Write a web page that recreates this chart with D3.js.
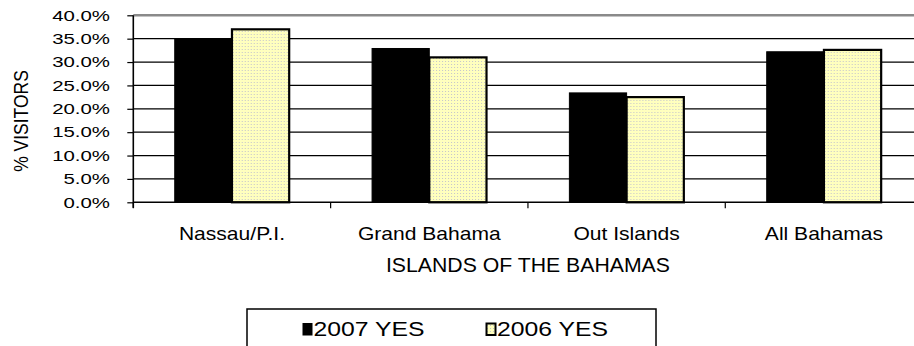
<!DOCTYPE html>
<html>
<head>
<meta charset="utf-8">
<script src="https://cdn.jsdelivr.net/npm/d3@7"></script>
<style>
  html, body { margin: 0; padding: 0; background: #fff; }
  svg { display: block; }
  text { font-family: Arial, "Liberation Sans", sans-serif; fill: #000; }
</style>
</head>
<body>
<svg id="chart" width="914" height="346"></svg>
<script>
// Share of visitors answering YES, by island group
const categories = ["Nassau/P.I.", "Grand Bahama", "Out Islands", "All Bahamas"];
const seriesNames = ["2007 YES", "2006 YES"];
const values2007 = [0.350, 0.329, 0.234, 0.322];
const values2006 = [0.370, 0.310, 0.225, 0.326];
const yTicks = [0, 0.05, 0.10, 0.15, 0.20, 0.25, 0.30, 0.35, 0.40];
const xTitle = "ISLANDS OF THE BAHAMAS";
const yTitle = "% VISITORS";

const svg = d3.select("#chart");

// plot area (the right edge runs past the visible canvas)
const plot = { left: 133.3, right: 922.6, top: 15.3, bottom: 202.3 };

const x = d3.scaleBand()
  .domain(categories)
  .range([plot.left, plot.right])
  .paddingInner(0.42)
  .paddingOuter(0.21);

const xs = d3.scaleBand()
  .domain(seriesNames)
  .range([0, x.bandwidth()]);

const y = d3.scaleLinear()
  .domain([0, 0.4])
  .range([plot.bottom, plot.top]);

// dotted pale-yellow fill
const defs = svg.append("defs");
const pat = defs.append("pattern")
  .attr("id", "dots")
  .attr("patternUnits", "userSpaceOnUse")
  .attr("width", 3).attr("height", 3);
pat.append("rect").attr("width", 3).attr("height", 3).attr("fill", "#FFFFBE");
pat.append("rect").attr("x", 1).attr("y", 1).attr("width", 1).attr("height", 1).attr("fill", "#C4C4CC");

// horizontal gridlines
svg.append("g")
  .selectAll("line")
  .data(yTicks.filter(t => t > 0 && t < 0.4))
  .join("line")
  .attr("x1", plot.left).attr("x2", plot.right)
  .attr("y1", d => y(d)).attr("y2", d => y(d))
  .attr("stroke", "#000").attr("stroke-width", 1.3);

// plot-area top border
svg.append("line")
  .attr("x1", plot.left).attr("x2", plot.right)
  .attr("y1", y(0.4)).attr("y2", y(0.4))
  .attr("stroke", "#8a8a8a").attr("stroke-width", 2.6);

// bars
const rows = categories.map((c, i) => ({ cat: c, vals: [values2007[i], values2006[i]] }));
const groups = svg.append("g")
  .selectAll("g")
  .data(rows)
  .join("g")
  .attr("transform", d => `translate(${x(d.cat)},0)`);

groups.selectAll("rect")
  .data(d => d.vals.map((v, j) => ({ name: seriesNames[j], v })))
  .join("rect")
  .attr("x", d => xs(d.name))
  .attr("width", xs.bandwidth())
  .attr("y", d => y(d.v))
  .attr("height", d => y(0) - y(d.v))
  .attr("fill", d => d.name === seriesNames[0] ? "#000" : "url(#dots)")
  .attr("stroke", "#000")
  .attr("stroke-width", d => d.name === seriesNames[0] ? 1 : 2.2);

// y axis
const yAxis = svg.append("g")
  .attr("transform", `translate(${plot.left},0)`)
  .call(d3.axisLeft(y).tickValues(yTicks).tickSize(6).tickPadding(0).tickFormat(d3.format(".1%")));
yAxis.select(".domain").remove();
yAxis.selectAll(".tick line").attr("stroke", "#000").attr("stroke-width", 1.2);
yAxis.selectAll(".tick text").remove();
svg.append("line")
  .attr("x1", plot.left).attr("x2", plot.left)
  .attr("y1", plot.top).attr("y2", plot.bottom + 5.5)
  .attr("stroke", "#000").attr("stroke-width", 1.6);

// y tick labels, slightly widened
const fmt = d3.format(".1%");
svg.append("g")
  .selectAll("text")
  .data(yTicks)
  .join("text")
  .attr("transform", d => `translate(110,${y(d) + 5.3}) scale(1.36,1)`)
  .attr("text-anchor", "end")
  .attr("font-size", 15)
  .text(d => fmt(d));

// x axis
svg.append("line")
  .attr("x1", plot.left).attr("x2", plot.right)
  .attr("y1", plot.bottom).attr("y2", plot.bottom)
  .attr("stroke", "#000").attr("stroke-width", 1.4);
const xBounds = categories.map(c => x(c) - x.step() * x.paddingInner() / 2);
svg.append("g")
  .selectAll("line")
  .data(xBounds)
  .join("line")
  .attr("x1", d => d).attr("x2", d => d)
  .attr("y1", plot.bottom).attr("y2", plot.bottom + 6)
  .attr("stroke", "#000").attr("stroke-width", 1.2);

svg.append("g")
  .selectAll("text")
  .data(categories)
  .join("text")
  .attr("transform", d => `translate(${x(d) + x.bandwidth() / 2},239.5) scale(1.17,1)`)
  .attr("text-anchor", "middle")
  .attr("font-size", 18)
  .text(d => d);

// axis titles
svg.append("text")
  .attr("transform", `translate(${(plot.left + plot.right) / 2},272) scale(1.09,1)`)
  .attr("text-anchor", "middle")
  .attr("font-size", 19.5)
  .text(xTitle);

svg.append("text")
  .attr("transform", `translate(28,121) scale(1.2,1) rotate(-90)`)
  .attr("text-anchor", "middle")
  .attr("font-size", 17.5)
  .text(yTitle);

// legend
const legend = svg.append("g");
legend.append("rect")
  .attr("x", 247).attr("y", 309)
  .attr("width", 409).attr("height", 60)
  .attr("fill", "#fff").attr("stroke", "#000").attr("stroke-width", 1.5);

const legendX = [302.5, 486];
const items = legend.selectAll("g.item")
  .data(seriesNames)
  .join("g")
  .attr("class", "item")
  .attr("transform", (d, i) => `translate(${legendX[i]},0)`);
items.append("rect")
  .attr("x", 0.5).attr("y", 323.5)
  .attr("width", 9).attr("height", 11.5)
  .attr("fill", (d, i) => i === 0 ? "#000" : "url(#dots)")
  .attr("stroke", "#000")
  .attr("stroke-width", (d, i) => i === 0 ? 1 : 2);
items.append("text")
  .attr("transform", "translate(11,335.7) scale(1.27,1)")
  .attr("font-size", 19.5)
  .text(d => d);
</script>
</body>
</html>
